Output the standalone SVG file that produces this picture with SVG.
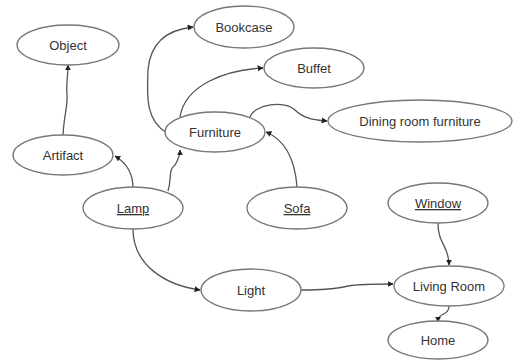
<svg xmlns="http://www.w3.org/2000/svg" width="514" height="360" viewBox="0 0 514 360">
<defs>
<marker id="ah" viewBox="0 0 10 10" refX="9" refY="5" markerWidth="6" markerHeight="6" orient="auto" markerUnits="userSpaceOnUse">
<path d="M0,0 L10,5 L0,10 z" fill="#222"/>
</marker>
<style>
.n ellipse{fill:#fff;stroke:#777;stroke-width:1.3}
.n text{font-family:"Liberation Sans",Arial,sans-serif;font-size:13px;fill:#333;text-anchor:middle}
.u{text-decoration:underline}
#edges path{fill:none;stroke:#555;stroke-width:1.3;marker-end:url(#ah)}
</style>
</defs>
<rect width="514" height="360" fill="#fff"/>
<g id="edges">
<path d="M63,135 C64,115 68,105 67,95 C66,85 68,75 68,65"/>
<path d="M133,188 C133,172 125,162 115,156"/>
<path d="M168,191 C172,178 168,170 175,165 C178,160 180,155 180,150"/>
<path d="M167,133 C145,120 147,95 148,70 C150,45 165,30 193,27"/>
<path d="M180,117 C185,85 225,70 263,68"/>
<path d="M250,117 C255,104 285,100 295,110 C305,120 318,120 327,121"/>
<path d="M297,187 C295,160 285,140 266,132"/>
<path d="M133,229 C133,265 165,285 200,290"/>
<path d="M301,290 C330,290 340,288 348,286 C360,284 380,284 393,284"/>
<path d="M438,223 C438,245 449,245 449,265"/>
<path d="M449,306 C449,316 438,312 438,322"/>
</g>
<g id="object" class="n"><ellipse cx="68" cy="45" rx="51" ry="20"/><text x="68" y="50">Object</text></g>
<g id="artifact" class="n"><ellipse cx="63" cy="155" rx="50" ry="20"/><text x="63" y="160">Artifact</text></g>
<g id="bookcase" class="n"><ellipse cx="244" cy="27" rx="50" ry="21"/><text x="244" y="32">Bookcase</text></g>
<g id="buffet" class="n"><ellipse cx="314" cy="68" rx="50" ry="20"/><text x="314" y="73">Buffet</text></g>
<g id="furniture" class="n"><ellipse cx="215" cy="132" rx="50" ry="20"/><text x="215" y="137">Furniture</text></g>
<g id="dining" class="n"><ellipse cx="420" cy="121" rx="92" ry="21"/><text x="420" y="126">Dining room furniture</text></g>
<g id="lamp" class="n"><ellipse cx="133" cy="208" rx="50" ry="21"/><text x="133" y="213" class="u">Lamp</text></g>
<g id="sofa" class="n"><ellipse cx="297" cy="208" rx="50" ry="21"/><text x="297" y="213" class="u">Sofa</text></g>
<g id="window" class="n"><ellipse cx="438" cy="203" rx="50" ry="20"/><text x="438" y="208" class="u">Window</text></g>
<g id="light" class="n"><ellipse cx="251" cy="290" rx="50" ry="21"/><text x="251" y="295">Light</text></g>
<g id="livingroom" class="n"><ellipse cx="449" cy="286" rx="55" ry="20"/><text x="449" y="291">Living Room</text></g>
<g id="home" class="n"><ellipse cx="438" cy="340" rx="50" ry="19"/><text x="438" y="345">Home</text></g>
</svg>
